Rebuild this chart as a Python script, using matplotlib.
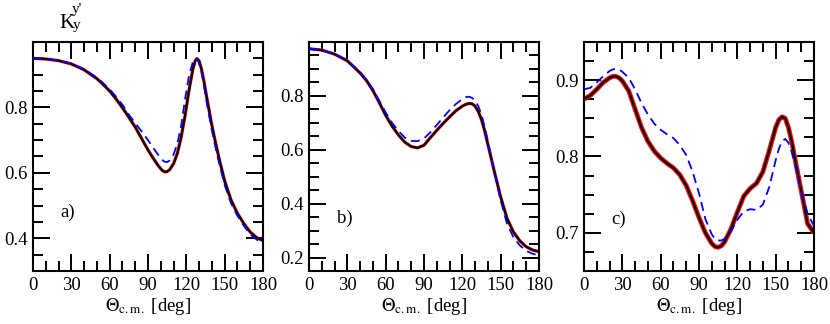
import matplotlib
matplotlib.use("Agg")
import matplotlib.pyplot as plt
from matplotlib.ticker import MultipleLocator, FixedLocator

plt.rcParams['font.family'] = ['Liberation Serif', 'DejaVu Serif']
plt.rcParams['mathtext.fontset'] = 'stix'

# ---------------- data ----------------
xa = [0, 10, 20, 30, 40, 50, 55, 60, 65, 70, 75, 80, 85, 90, 94, 98, 101, 103,
      105, 107, 110, 113, 116, 119, 122, 125, 127, 128.5, 130, 132, 134, 136,
      138, 140, 143, 146, 150, 155, 160, 165, 170, 175, 180]
a_full = [0.950, 0.948, 0.943, 0.933, 0.915, 0.888, 0.870, 0.850, 0.826, 0.799,
          0.770, 0.740, 0.705, 0.670, 0.645, 0.622, 0.608, 0.603, 0.604, 0.610,
          0.628, 0.660, 0.710, 0.775, 0.850, 0.915, 0.943, 0.949, 0.942, 0.915,
          0.875, 0.830, 0.787, 0.745, 0.690, 0.638, 0.575, 0.517, 0.476, 0.445,
          0.419, 0.402, 0.393]
a_dash = [0.950, 0.948, 0.943, 0.934, 0.917, 0.891, 0.874, 0.855, 0.833, 0.808,
          0.778, 0.752, 0.727, 0.700, 0.677, 0.655, 0.640, 0.634, 0.633, 0.638,
          0.656, 0.690, 0.745, 0.825, 0.895, 0.938, 0.951, 0.948, 0.935, 0.905,
          0.862, 0.815, 0.772, 0.730, 0.675, 0.625, 0.563, 0.507, 0.469, 0.438,
          0.412, 0.396, 0.386]

xb = [0, 10, 20, 30, 40, 45, 50, 55, 60, 65, 70, 75, 80, 85, 90, 95, 100, 105,
      110, 115, 120, 122.5, 125, 127.5, 130, 132.5, 135, 137.5, 140, 142.5, 145,
      150, 155, 160, 165, 170, 175, 180]
b_full = [0.975, 0.970, 0.955, 0.930, 0.885, 0.857, 0.820, 0.775, 0.728, 0.688,
          0.655, 0.628, 0.612, 0.607, 0.617, 0.645, 0.672, 0.698, 0.722, 0.745,
          0.762, 0.768, 0.772, 0.771, 0.762, 0.742, 0.712, 0.670, 0.620, 0.570,
          0.520, 0.425, 0.345, 0.295, 0.262, 0.240, 0.228, 0.222]
b_dash = [0.975, 0.970, 0.956, 0.932, 0.888, 0.860, 0.825, 0.782, 0.738, 0.700,
          0.670, 0.645, 0.633, 0.632, 0.642, 0.665, 0.692, 0.720, 0.747, 0.770,
          0.788, 0.795, 0.797, 0.793, 0.782, 0.762, 0.730, 0.685, 0.632, 0.576,
          0.520, 0.412, 0.325, 0.275, 0.245, 0.225, 0.214, 0.208]

xc = [0, 5, 10, 15, 20, 22.5, 25, 27.5, 30, 35, 40, 45, 50, 55, 60, 65, 70, 75,
      80, 85, 90, 95, 100, 102.5, 105, 107.5, 110, 115, 120, 125, 130, 135, 140,
      145, 150, 152.5, 155, 157.5, 160, 162.5, 165, 170, 175, 180]
c_full = [0.875, 0.880, 0.888, 0.897, 0.903, 0.905, 0.905, 0.903, 0.899, 0.886,
          0.862, 0.838, 0.820, 0.807, 0.798, 0.791, 0.785, 0.776, 0.762, 0.742,
          0.720, 0.700, 0.686, 0.682, 0.681, 0.683, 0.688, 0.705, 0.727, 0.748,
          0.758, 0.765, 0.780, 0.808, 0.838, 0.848, 0.852, 0.850, 0.838, 0.820,
          0.798, 0.755, 0.712, 0.700]
c_dash = [0.888, 0.890, 0.897, 0.905, 0.912, 0.914, 0.915, 0.914, 0.911, 0.903,
          0.888, 0.870, 0.855, 0.843, 0.835, 0.829, 0.824, 0.815, 0.802, 0.780,
          0.752, 0.718, 0.698, 0.692, 0.690, 0.690, 0.692, 0.702, 0.717, 0.728,
          0.731, 0.730, 0.737, 0.760, 0.795, 0.810, 0.820, 0.823, 0.818, 0.806,
          0.790, 0.755, 0.725, 0.709]

panel_labels = ['a)', 'b)', 'c)']
x_ticks = [0, 30, 60, 90, 120, 150, 180]
y_limits = [(0.3, 1.0), (0.15, 1.0), (0.65, 0.95)]
y_major = [[0.4, 0.6, 0.8], [0.2, 0.4, 0.6, 0.8], [0.7, 0.8, 0.9]]
y_minor_step = [0.05, 0.05, 0.025]
label_pos = [(27, 0.48), (28, 0.345), (27, 0.718)]
band_width = [2.3, 2.3, 3.4]

# ---------------- figure ----------------
fig = plt.figure(figsize=(8.30, 3.24), dpi=100)
lefts = [33 / 830, 309 / 830, 584 / 830]
width = 230 / 830
bottom = 1 - 271 / 324
height = (271 - 42) / 324

data = [(xa, a_full, a_dash), (xb, b_full, b_dash), (xc, c_full, c_dash)]

for i, (x, yf, yd) in enumerate(data):
    ax = fig.add_axes([lefts[i], bottom, width, height])
    ax.plot(x, yf, color='red', lw=band_width[i], solid_capstyle='butt',
            solid_joinstyle='round', zorder=2)
    ax.plot(x, yf, color='black', lw=1.5, solid_joinstyle='round', zorder=3)
    ax.plot(x, yd, color='blue', lw=1.3, ls=(0, (5, 3)), zorder=4)
    ax.set_xlim(0, 180)
    ax.set_ylim(*y_limits[i])
    ax.xaxis.set_major_locator(FixedLocator(x_ticks))
    ax.xaxis.set_minor_locator(MultipleLocator(10))
    ax.yaxis.set_major_locator(FixedLocator(y_major[i]))
    ax.yaxis.set_minor_locator(MultipleLocator(y_minor_step[i]))
    ax.tick_params(which='both', direction='in', top=True, right=True,
                   width=1.4, labelsize=13.5)
    ax.tick_params(which='major', length=12.5)
    ax.tick_params(which='minor', length=7)
    ax.tick_params(axis='x', pad=4)
    ax.tick_params(axis='y', pad=4)
    for s in ax.spines.values():
        s.set_linewidth(1.5)
    ax.set_xlabel(r'$\Theta_{\mathrm{c.m.}}$ [deg]', fontsize=13.5, labelpad=2)
    ax.text(label_pos[i][0], label_pos[i][1], panel_labels[i], fontsize=13.5,
            ha='center', va='center')

# y-axis quantity label K_y^{y'}
fig.text(59 / 830, 1 - 28 / 324, 'K', fontsize=15, ha='left', va='baseline')
fig.text(72 / 830, 1 - 12.5 / 324, "y'", fontsize=11, ha='left', va='baseline')
fig.text(73 / 830, 1 - 29.5 / 324, 'y', fontsize=11, ha='left', va='baseline')

fig.savefig('out.png', dpi=100)
